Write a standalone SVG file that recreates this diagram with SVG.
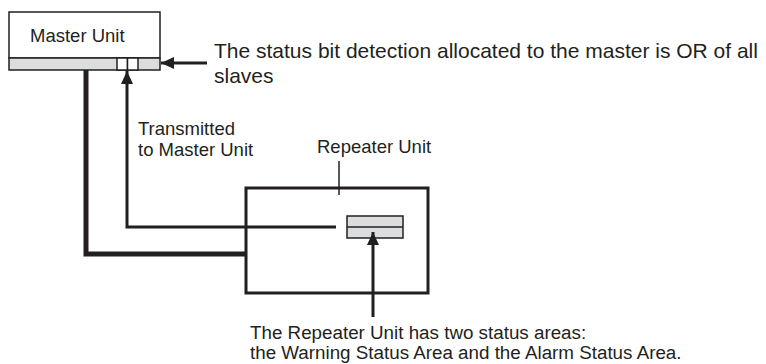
<svg xmlns="http://www.w3.org/2000/svg" width="766" height="364" viewBox="0 0 766 364">
<style>
text{font-family:"Liberation Sans",Arial,sans-serif;fill:#231f20;font-size:18.5px}
.big{font-size:21px}
.bot{font-size:18.8px}
.ln{fill:none;stroke:#231f20;stroke-linejoin:miter}
</style>
<defs>
<marker id="ah" markerUnits="userSpaceOnUse" markerWidth="14" markerHeight="12" refX="13" refY="6" orient="auto">
<path d="M0,0 L13,6 L0,12 Z" fill="#231f20"/>
</marker>
</defs>
<rect width="766" height="364" fill="#fff"/>
<g id="master">
<rect x="9" y="12" width="151" height="46" fill="#fff" stroke="#231f20" stroke-width="1.5"/>
<rect x="9" y="58" width="151" height="12" fill="#dcdddf" stroke="#231f20" stroke-width="1.5"/>
<rect x="117" y="58" width="10.5" height="12" fill="#fff" stroke="#231f20" stroke-width="1.5"/>
<rect x="127.5" y="58" width="10.5" height="12" fill="#fff" stroke="#231f20" stroke-width="1.5"/>
<text x="30" y="42">Master Unit</text>
</g>
<g id="repeater">
<rect x="246" y="188" width="182" height="105" fill="none" stroke="#231f20" stroke-width="3"/>
<rect x="347" y="216" width="56" height="22" fill="#dcdddf" stroke="#231f20" stroke-width="1.5"/>
<line x1="347" y1="227" x2="403" y2="227" stroke="#231f20" stroke-width="1.5"/>
<text x="317" y="153">Repeater Unit</text>
</g>
<g id="connectors">
<polyline class="ln" points="86,70 86,254 246,254" stroke-width="5"/>
<polyline class="ln" points="336,227 127,227 127,71" stroke-width="3" marker-end="url(#ah)"/>
<line class="ln" x1="207" y1="63" x2="161" y2="63" stroke-width="3" marker-end="url(#ah)"/>
<line class="ln" x1="373" y1="317" x2="373" y2="232" stroke-width="3" marker-end="url(#ah)"/>
<line class="ln" x1="339" y1="161" x2="339" y2="195" stroke-width="1.5"/>
</g>
<g id="labels">
<text class="big" x="214" y="58">The status bit detection allocated to the master is OR of all</text>
<text class="big" x="214" y="83">slaves</text>
<text x="138" y="135">Transmitted</text>
<text x="138" y="156">to Master Unit</text>
<text class="bot" x="250" y="339">The Repeater Unit has two status areas:</text>
<text class="bot" x="250" y="359">the Warning Status Area and the Alarm Status Area.</text>
</g>
</svg>
